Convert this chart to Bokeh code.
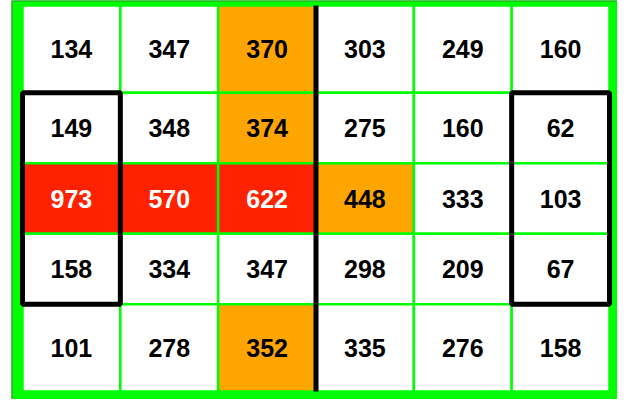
from bokeh.plotting import figure
from bokeh.models import Range1d, ColumnDataSource
from bokeh.core.properties import value
from bokeh.embed import file_html
from bokeh.resources import INLINE

# ---- data ----
row1 = [134, 347, 370, 303, 249, 160]
row2 = [149, 348, 374, 275, 160, 62]
row3 = [973, 570, 622, 448, 333, 103]
row4 = [158, 334, 347, 298, 209, 67]
row5 = [101, 278, 352, 335, 276, 158]
rows = [row1, row2, row3, row4, row5]
orange_threshold = 350
red_threshold = 500
divider_after_col = 3                     # thick black vertical divider
highlight_boxes = [(0, 1, 3), (5, 1, 3)]  # (column, first row, last row)

# ---- layout ----
W, H = 617, 399
left_pad_px, right_pad_px = 11, 0
ring_left, ring_right, ring_top, ring_bottom = 11, 8, 5, 8
row_weights = [89, 72, 72, 72, 89]
frame_w = W - left_pad_px - right_pad_px
cells_w = frame_w - ring_left - ring_right
col_px = cells_w / 6.0
total_rows = float(sum(row_weights))
cells_h = H - ring_top - ring_bottom
s = cells_h / total_rows

edges = [0.0]
for w in row_weights:
    edges.append(edges[-1] + w)

x0, x1 = -ring_left / col_px, 6 + ring_right / col_px
ytop, ybot = -ring_top / s, total_rows + ring_bottom / s

p = figure(width=W, height=H, output_backend="svg", toolbar_location=None,
           x_range=Range1d(x0, x1), y_range=Range1d(ybot, ytop),
           x_axis_location=None, y_axis_location=None,
           min_border_left=left_pad_px, min_border_right=right_pad_px,
           min_border_top=0, min_border_bottom=0)
p.grid.visible = False
p.background_fill_color = "#00FF00"
p.border_fill_color = "white"
p.outline_line_color = None

L, R, T, B, C, X, Y, TXT, TC = [], [], [], [], [], [], [], [], []
for ri, row in enumerate(rows):
    for ci, v in enumerate(row):
        L.append(ci); R.append(ci + 1)
        T.append(edges[ri]); B.append(edges[ri + 1])
        if v > red_threshold:
            col, tcol = "#FF2200", "white"
        elif v > orange_threshold:
            col, tcol = "#FFA500", "black"
        else:
            col, tcol = "white", "black"
        C.append(col); TC.append(tcol)
        X.append(ci + 0.5); Y.append((edges[ri] + edges[ri + 1]) / 2)
        TXT.append(str(v))

src = ColumnDataSource(dict(left=L, right=R, top=T, bottom=B, color=C,
                            x=X, y=Y, text=TXT, tcolor=TC))
p.quad(left="left", right="right", top="top", bottom="bottom", source=src,
       fill_color="color", line_color="#00FF00", line_width=2.5)

p.text(x="x", y="y", text="text", source=src, text_color="tcolor",
       text_align="center", text_baseline="middle",
       text_font=value("Liberation Sans"), text_font_style="bold",
       text_font_size="25px")

# dark outer edge on left and top
p.segment(x0=[x0, x0], y0=[ybot, ytop], x1=[x0, x1], y1=[ytop, ytop],
          line_color="#2A8F2A", line_width=2)

# divider
p.segment(x0=[divider_after_col], y0=[edges[0]], x1=[divider_after_col],
          y1=[edges[-1]], line_color="black", line_width=5)

# highlight boxes
for (c, r0, r1) in highlight_boxes:
    p.quad(left=[c], right=[c + 1], top=[edges[r0]], bottom=[edges[r1 + 1]],
           fill_alpha=0, line_color="black", line_width=5)

open("out.html", "w").write(file_html(p, INLINE))
